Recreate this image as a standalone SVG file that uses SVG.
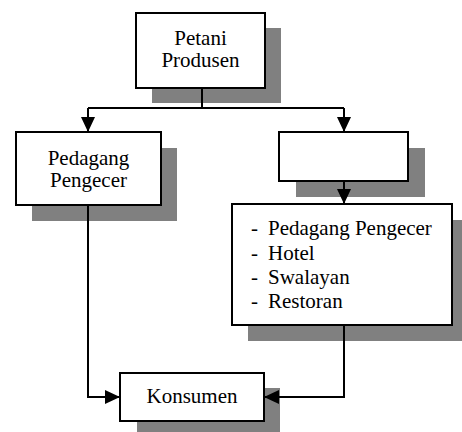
<svg xmlns="http://www.w3.org/2000/svg" width="462" height="432" viewBox="0 0 462 432">
<style>
.sh{fill:#808080;stroke:none}
.bx{fill:#fff;stroke:#000;stroke-width:2}
.t{font-family:'Liberation Serif','Times New Roman','DejaVu Serif',serif;font-size:21px;fill:#000}
.c{text-anchor:middle}
.ln{fill:none;stroke:#000;stroke-width:2}
</style>
<defs>
<marker id="ah" markerUnits="userSpaceOnUse" markerWidth="15" markerHeight="14" refX="15" refY="7" orient="auto">
<path d="M0,0 L15,7 L0,14 z" fill="#000"/>
</marker>
</defs>
<rect width="462" height="432" fill="#fff"/>
<g id="petani">
<rect class="sh" x="152" y="28" width="129" height="75"/>
<rect class="bx" x="136" y="13" width="129" height="75"/>
<text class="t c" x="200.5" y="45">Petani</text>
<text class="t c" x="200.5" y="67">Produsen</text>
</g>
<g id="pedagang">
<rect class="sh" x="32" y="148" width="145" height="73"/>
<rect class="bx" x="16" y="132" width="145" height="73"/>
<text class="t c" x="88.5" y="165">Pedagang</text>
<text class="t c" x="88.5" y="187">Pengecer</text>
</g>
<g id="kosong">
<rect class="sh" x="296" y="148" width="129" height="49"/>
<rect class="bx" x="279" y="132" width="129" height="49"/>
</g>
<g id="daftar">
<rect class="sh" x="248" y="220" width="220" height="121"/>
<rect class="bx" x="232" y="204" width="220" height="121"/>
<text class="t" x="251" y="235">-</text><text class="t" x="268" y="235">Pedagang Pengecer</text>
<text class="t" x="251" y="260">-</text><text class="t" x="268" y="260">Hotel</text>
<text class="t" x="251" y="284">-</text><text class="t" x="268" y="284">Swalayan</text>
<text class="t" x="251" y="308">-</text><text class="t" x="268" y="308">Restoran</text>
</g>
<g id="konsumen">
<rect class="sh" x="137" y="388" width="143" height="49"/>
<rect class="bx" x="120" y="373" width="144" height="48"/>
<text class="t c" x="192" y="403">Konsumen</text>
</g>
<g id="connectors">
<path class="ln" d="M202,88 V108"/>
<path class="ln" d="M88,108 H344"/>
<path class="ln" d="M88,108 V132" marker-end="url(#ah)"/>
<path class="ln" d="M344,108 V132" marker-end="url(#ah)"/>
<path class="ln" d="M344,181 V204" marker-end="url(#ah)"/>
<path class="ln" d="M88,205 V397 H120" marker-end="url(#ah)"/>
<path class="ln" d="M344,325 V397 H264" marker-end="url(#ah)"/>
</g>
</svg>
